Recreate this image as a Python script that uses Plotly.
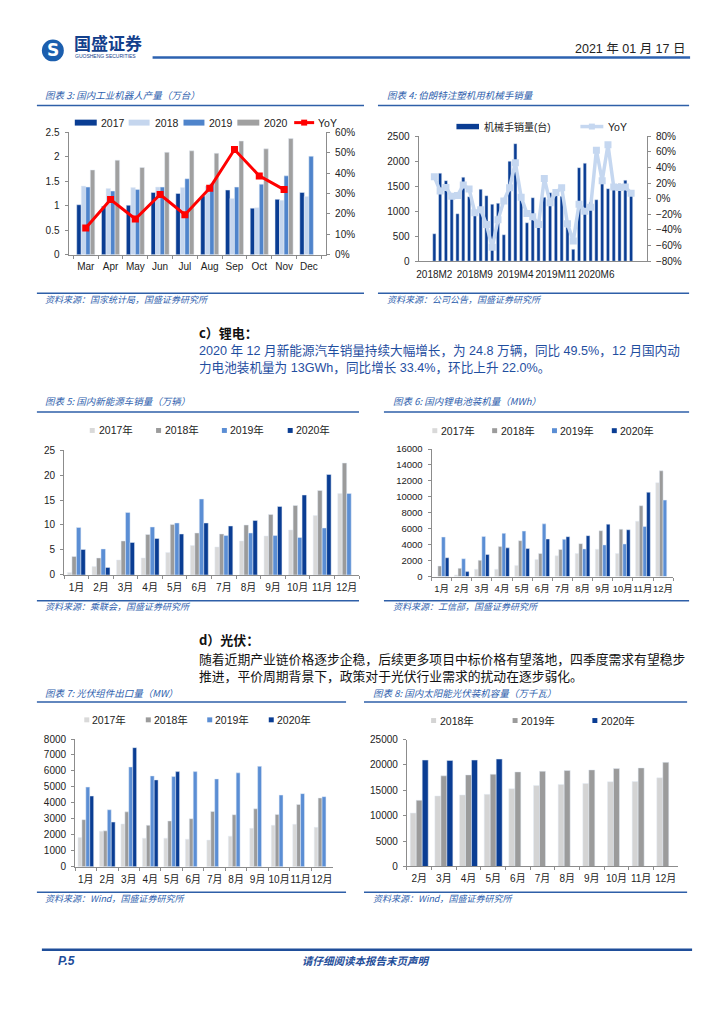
import plotly.graph_objects as go

W, H = 724, 1024

# ---------------- data ----------------
robot_months = ["Mar", "Apr", "May", "Jun", "Jul", "Aug", "Sep", "Oct", "Nov", "Dec"]
robot_years = ["2017", "2018", "2019", "2020"]
robot_2017 = [1.02, 0.99, 1.01, 1.27, 1.25, 1.20, 1.32, 0.95, 1.13, 1.27]
robot_2018 = [1.40, 1.35, 1.37, 1.38, 1.37, 1.40, 1.15, 0.96, 1.11, 1.19]
robot_2019 = [1.38, 1.30, 1.33, 1.38, 1.55, 1.45, 1.38, 1.44, 1.61, 2.01]
robot_2020 = [1.73, 1.93, 1.78, 2.09, 2.12, 2.07, 2.32, 2.16, 2.37, None]
robot_yoy = [13.1, 27.0, 17.5, 29.5, 19.6, 32.6, 51.5, 38.6, 31.9, None]

arm_months = ["2018M2", "2018M3", "2018M4", "2018M5", "2018M6", "2018M7", "2018M8",
              "2018M9", "2018M10", "2018M11", "2018M12",
              "2019M1", "2019M2", "2019M3", "2019M4", "2019M5", "2019M6", "2019M7",
              "2019M8", "2019M9", "2019M10", "2019M11", "2019M12",
              "2020M1", "2020M2", "2020M3", "2020M4", "2020M5", "2020M6", "2020M7",
              "2020M8", "2020M9", "2020M10", "2020M11", "2020M12"]
arm_ticks = ["2018M2", "2018M9", "2019M4", "2019M11", "2020M6"]
arm_sales = [550, 1760, 1610, 1300, 950, 1680, 1290, 920, 1440, 1310, 1140, 1160,
             530, 2000, 2350, 1240, 770, 1270, 820, 1280, 1370, 1310, 1300, 680,
             240, 1870, 1960, 1180, 1230, 1550, 1450, 1520, 1550, 1620, 1340]
arm_yoy = [28, 10, 14.5, 3, 4, 17.5, 12.5, -18, -14, -33, -62, -27,
           -3, 14, 46, 2, -19, -23, -33, 26, -5, 8, 14, -32,
           -54, -7, -16, -11, 62, 23, 69, 15, 14.5, 15, 7]

month_cn = ["1月", "2月", "3月", "4月", "5月", "6月", "7月", "8月", "9月", "10月", "11月", "12月"]
cn_years = ["2017年", "2018年", "2019年", "2020年"]
nev_2017 = [0.5, 1.7, 3.0, 3.4, 4.5, 5.9, 5.6, 6.8, 7.8, 9.0, 11.9, 16.3]
nev_2018 = [3.7, 3.4, 6.8, 8.1, 10.1, 8.4, 8.2, 10.0, 12.1, 13.9, 16.9, 22.4]
nev_2019 = [9.5, 5.2, 12.5, 9.6, 10.4, 15.2, 7.9, 8.4, 7.9, 7.5, 9.4, 16.3]
nev_2020 = [5.1, 1.5, 6.5, 7.3, 8.2, 10.4, 9.8, 10.9, 13.7, 16.0, 20.1, None]

bat_2017 = [None, 200, 910, 910, 1400, 2150, 2600, 2890, 3430, 2890, 6940, 11780]
bat_2018 = [1320, 1030, 2030, 3760, 4500, 2890, 3390, 4130, 5750, 5950, 8890, 13270]
bat_2019 = [4960, 2230, 5040, 5420, 5700, 6610, 4670, 3470, 3970, 4090, 6280, 9590]
bat_2020 = [2360, 620, 2770, 3600, 3510, 4710, 5000, 5130, 6570, 5870, 10580, None]

pvx_2017 = [1835, 2230, 2680, 1790, 1790, 1730, 1670, 1920, 2410, 2600, 2660, 2470]
pvx_2018 = [2950, 2250, 3440, 2600, 2870, 3010, 3460, 3260, 3630, 3280, 3900, 4310]
pvx_2019 = [4990, 3570, 6250, 5690, 5650, 5960, 5500, 5880, 6290, 4490, 4580, 4390]
pvx_2020 = [4430, 2800, 7460, 5440, 5960, None, None, None, None, None, None, None]

pv_months = ["2月", "3月", "4月", "5月", "6月", "7月", "8月", "9月", "10月", "11月", "12月"]
pv_years = ["2018年", "2019年", "2020年"]
pvc_2018 = [10520, 13900, 14090, 14220, 15320, 15970, 16170, 16360, 16690, 16750, 17470]
pvc_2019 = [13050, 17860, 18050, 18180, 18640, 18770, 18900, 19030, 19290, 19420, 20520]
pvc_2020 = [20970, 20900, 20970, 21170, None, None, None, None, None, None, None]

# ---------------- styles ----------------
NAVY = "#0A3D93"
C3 = ["#0A3D93", "#C5D6EE", "#4F84CB", "#A0A0A0"]
C5 = ["#D9D9D9", "#9B9B9B", "#5B8ED4", "#0A3D93"]
C8 = ["#D4D4D4", "#9B9B9B", "#0A3D93"]
RED = "#FF0000"
LBLUE = "#C5D7F0"
TBLUE = "#2F5FAE"
LINEBLUE = "#2E5FA8"
AX = "#8C8C8C"
TXT = "#222222"
FONT = "Liberation Sans, Arial, Noto Sans CJK SC, sans-serif"
CJK = "Noto Sans CJK SC, sans-serif"

shapes = []
annos = []


def add_line(x0, x1, y, color, width):
    shapes.append(dict(type="line", xref="paper", yref="paper",
                       x0=x0 / W, x1=x1 / W, y0=1 - y / H, y1=1 - y / H,
                       line=dict(color=color, width=width)))


def add_rect(x0, x1, y0, y1, color):
    shapes.append(dict(type="rect", xref="paper", yref="paper",
                       x0=x0 / W, x1=x1 / W, y0=1 - y1 / H, y1=1 - y0 / H,
                       fillcolor=color, line=dict(width=0)))


def add_text(x, y, s, size, color, anchor="left", family=FONT):
    annos.append(dict(xref="paper", yref="paper", x=x / W, y=1 - y / H,
                      text=s, showarrow=False, xanchor=anchor, yanchor="middle",
                      borderpad=0, font=dict(size=size, color=color, family=family)))


def legend_box(x0, x1, yc, h, color, label, tx, size=10.5):
    add_rect(x0, x1, yc - h / 2, yc + h / 2, color)
    add_text(tx, yc, label, size, TXT)


def legend_line(x0, x1, yc, color, lw, ms, label, tx, size=10.5):
    add_line(x0, x1, yc, color, lw)
    xc = (x0 + x1) / 2
    add_rect(xc - ms / 2, xc + ms / 2, yc - ms / 2, yc + ms / 2, color)
    add_text(tx, yc, label, size, TXT)


def cat_axis(x0, x1, anchor, **kw):
    d = dict(domain=[x0 / W, x1 / W], anchor=anchor, type="category",
             showline=True, linecolor=AX, linewidth=1, ticks="outside",
             tickson="boundaries", ticklen=3, tickcolor=AX, tickangle=0,
             tickfont=dict(size=10, color=TXT, family=FONT),
             showgrid=False, zeroline=False, fixedrange=True)
    d.update(kw)
    return d


def val_axis(y0, y1, anchor, rng, dtick, **kw):
    d = dict(domain=[1 - y1 / H, 1 - y0 / H], anchor=anchor, range=rng, dtick=dtick,
             showline=True, linecolor=AX, linewidth=1, ticks="outside", ticklen=3,
             tickcolor=AX, tickfont=dict(size=10, color=TXT, family=FONT),
             showgrid=False, zeroline=False, fixedrange=True, ticklabelstandoff=3)
    d.update(kw)
    return d


fig = go.Figure()

# ---- Chart 3: industrial robots ----
for name, vals, col in zip(robot_years, [robot_2017, robot_2018, robot_2019, robot_2020], C3):
    fig.add_trace(go.Bar(x=robot_months, y=vals, name=name, marker_color=col,
                         xaxis="x", yaxis="y", showlegend=False))
fig.add_trace(go.Scatter(x=robot_months, y=robot_yoy, name="YoY", mode="lines+markers",
                         line=dict(color=RED, width=3),
                         marker=dict(symbol="square", size=7, color=RED),
                         xaxis="x", yaxis="y2", showlegend=False))

# ---- Chart 4: robot arms ----
fig.add_trace(go.Bar(x=arm_months, y=arm_sales, name="机械手销量(台)", marker_color=NAVY,
                     width=0.55, xaxis="x2", yaxis="y3", showlegend=False))
fig.add_trace(go.Scatter(x=arm_months, y=arm_yoy, name="YoY", mode="lines+markers",
                         line=dict(color=LBLUE, width=3.5),
                         marker=dict(symbol="square", size=7, color=LBLUE),
                         xaxis="x2", yaxis="y4", showlegend=False))

# ---- Chart 5: NEV sales ----
for name, vals, col in zip(cn_years, [nev_2017, nev_2018, nev_2019, nev_2020], C5):
    fig.add_trace(go.Bar(x=month_cn, y=vals, name=name, marker_color=col,
                         xaxis="x3", yaxis="y5", showlegend=False))

# ---- Chart 6: battery installations ----
for name, vals, col in zip(cn_years, [bat_2017, bat_2018, bat_2019, bat_2020], C5):
    fig.add_trace(go.Bar(x=month_cn, y=vals, name=name, marker_color=col,
                         xaxis="x4", yaxis="y6", showlegend=False))

# ---- Chart 7: PV module exports ----
for name, vals, col in zip(cn_years, [pvx_2017, pvx_2018, pvx_2019, pvx_2020], C5):
    fig.add_trace(go.Bar(x=month_cn, y=vals, name=name, marker_color=col,
                         xaxis="x5", yaxis="y7", showlegend=False))

# ---- Chart 8: PV capacity ----
for name, vals, col in zip(pv_years, [pvc_2018, pvc_2019, pvc_2020], C8):
    fig.add_trace(go.Bar(x=pv_months, y=vals, name=name, marker_color=col,
                         xaxis="x6", yaxis="y8", showlegend=False))

# ---------------- page decoration ----------------
# header
shapes.append(dict(type="circle", xref="paper", yref="paper",
                   x0=40 / W, x1=62 / W, y0=1 - 56 / H, y1=1 - 34 / H,
                   fillcolor="#1B5EAE", line=dict(width=0)))
add_text(51, 45, "<b>S</b>", 17, "white", anchor="center", family="DejaVu Sans")
add_text(71, 37, "<b>国盛证券</b>", 17, "#13408C", family=CJK)
add_text(72, 50.5, "GUOSHENG SECURITIES", 5, "#13408C")
add_text(686, 43.5, "2021 年 01 月 17 日", 12.5, "#222222", anchor="right",
         family="Liberation Sans, Noto Sans CJK SC")
add_line(151, 690, 52, "#2D62B0", 2.5)

TI = lambda s: "<i>" + s + "</i>"

# chart 3 frame
add_text(42, 90, TI("图表 3: 国内工业机器人产量（万台）"), 9.5, TBLUE, family=CJK)
add_line(35, 363, 100.7, LINEBLUE, 1.5)
add_line(35, 363, 290.7, LINEBLUE, 1.5)
add_text(42, 297, TI("资料来源：国家统计局，国盛证券研究所"), 9, TBLUE, family=CJK)
legend_box(73, 95, 118, 6, C3[0], "2017", 98)
legend_box(127, 148, 118, 6, C3[1], "2018", 152)
legend_box(182, 203, 118, 6, C3[2], "2019", 207)
legend_box(236, 258, 118, 6, C3[3], "2020", 262)
legend_line(293, 313, 118, RED, 3, 6, "YoY", 316)

# chart 4 frame
add_text(385, 90, TI("图表 4: 伯朗特注塑机用机械手销量"), 9.5, TBLUE, family=CJK)
add_line(377, 689, 100.7, LINEBLUE, 1.5)
add_line(377, 689, 290.7, LINEBLUE, 1.5)
add_text(385, 297, TI("资料来源：公司公告，国盛证券研究所"), 9, TBLUE, family=CJK)
legend_box(455.7, 478.3, 122, 5.5, NAVY, "机械手销量(台)", 482, size=10)
legend_line(580, 603, 122, LBLUE, 3.5, 6, "YoY", 607)

# section c
add_text(197, 330, "<b>c）锂电：</b>", 13, "#111111", family=CJK)
add_text(197, 349, "2020 年 12 月新能源汽车销量持续大幅增长，为 24.8 万辆，同比 49.5%，12 月国内动",
         12.6, "#1F4E9F", family="Liberation Sans, Noto Sans CJK SC")
add_text(197, 366, "力电池装机量为 13GWh，同比增长 33.4%，环比上升 22.0%。",
         12.6, "#1F4E9F", family="Liberation Sans, Noto Sans CJK SC")

# chart 5 frame
add_text(42, 400, TI("图表 5: 国内新能源车销量（万辆）"), 9.5, TBLUE, family=CJK)
add_line(35, 358, 410.7, LINEBLUE, 1.5)
add_line(35, 358, 601.7, LINEBLUE, 1.5)
add_text(42, 607.7, TI("资料来源：乘联会，国盛证券研究所"), 9, TBLUE, family=CJK)
for cx, tx, col, lab in zip([90.5, 157, 223, 289], [96, 162, 228, 294], C5, cn_years):
    legend_box(cx - 2.5, cx + 2.5, 429.5, 5, col, lab, tx)

# chart 6 frame
add_text(391, 400, TI("图表 6: 国内锂电池装机量（MWh）"), 9.5, TBLUE, family=CJK)
add_line(383, 689, 410.7, LINEBLUE, 1.5)
add_line(383, 689, 601.7, LINEBLUE, 1.5)
add_text(391, 607.7, TI("资料来源：工信部，国盛证券研究所"), 9, TBLUE, family=CJK)
for cx, tx, col, lab in zip([434, 494, 554, 614], [439, 499, 559, 619], C5, cn_years):
    legend_box(cx - 2.5, cx + 2.5, 429.7, 5, col, lab, tx)

# section d
add_text(197, 641, "<b>d）光伏：</b>", 13, "#111111", family=CJK)
add_text(197, 660, "随着近期产业链价格逐步企稳，后续更多项目中标价格有望落地，四季度需求有望稳步",
         12.8, "#111111", family=CJK)
add_text(197, 677, "推进，平价周期背景下，政策对于光伏行业需求的扰动在逐步弱化。",
         12.8, "#111111", family=CJK)

# chart 7 frame
add_text(42, 695, TI("图表 7: 光伏组件出口量（MW）"), 9.5, TBLUE, family=CJK)
add_line(35, 345, 704.3, LINEBLUE, 1.5)
add_line(35, 345, 896.7, LINEBLUE, 1.5)
add_text(42, 902.7, TI("资料来源：Wind，国盛证券研究所"), 9, TBLUE, family=CJK)
for cx, tx, col, lab in zip([85, 146.7, 208.3, 270], [89.5, 151, 213, 274.5], C5, cn_years):
    legend_box(cx - 2.5, cx + 2.5, 722.3, 5, col, lab, tx)

# chart 8 frame
add_text(371, 695, TI("图表 8: 国内太阳能光伏装机容量（万千瓦）"), 9.5, TBLUE, family=CJK)
add_line(363, 687, 704.3, LINEBLUE, 1.5)
add_line(363, 687, 896.7, LINEBLUE, 1.5)
add_text(371, 902.7, TI("资料来源：Wind，国盛证券研究所"), 9, TBLUE, family=CJK)
for cx, tx, col, lab in zip([432.8, 514.5, 594.5], [438, 519, 599.5], C8, pv_years):
    legend_box(cx - 2.5, cx + 2.5, 723, 5, col, lab, tx)

# footer
add_line(40, 692, 955, "#1F4E9A", 2.5)
add_text(55, 966, "<b><i>P.5</i></b>", 12, "#1F4E9A", family=FONT)
add_text(365, 966, "<b><i>请仔细阅读本报告末页声明</i></b>", 10.5, "#1F4E9A", anchor="center", family=CJK)

# ---------------- axes ----------------
fig.update_layout(
    width=W, height=H, margin=dict(l=0, r=0, t=0, b=0),
    paper_bgcolor="white", plot_bgcolor="white",
    barmode="group", bargap=0.27, bargroupgap=0.0,
    showlegend=False,
    shapes=shapes, annotations=annos,
    xaxis=cat_axis(66.7, 325, "y", ticklabelstandoff=2),
    yaxis=val_axis(127.7, 251.7, "x", [0, 2.5], 0.5),
    yaxis2=dict(overlaying="y", side="right", anchor="x", range=[0, 60], dtick=10,
                ticksuffix="%", showline=True, linecolor=AX, ticks="outside", ticklen=3,
                tickcolor=AX, tickfont=dict(size=10, color=TXT, family=FONT),
                showgrid=False, zeroline=False, fixedrange=True, ticklabelstandoff=3),
    xaxis2=cat_axis(417.7, 646.7, "y3", ticks="", tickvals=arm_ticks, ticklabelstandoff=4),
    yaxis3=val_axis(131.7, 258.3, "x2", [0, 2500], 500, tickformat="d"),
    yaxis4=dict(overlaying="y3", side="right", anchor="x2", range=[-80, 80], dtick=20,
                ticksuffix="%", showline=True, linecolor=AX, ticks="outside", ticklen=3,
                tickcolor=AX, tickfont=dict(size=10, color=TXT, family=FONT),
                showgrid=False, zeroline=False, fixedrange=True, ticklabelstandoff=3),
    xaxis3=cat_axis(62.3, 358, "y5", ticklabelstandoff=3),
    yaxis5=val_axis(449.3, 575.7, "x3", [0, 25], 5, tickformat="d"),
    xaxis4=cat_axis(430.7, 673, "y6", ticklabelstandoff=3,
                    tickfont=dict(size=9.5, color=TXT, family=FONT)),
    yaxis6=val_axis(448.3, 577.3, "x4", [0, 16000], 2000, tickformat="d",
                    tickfont=dict(size=9.5, color=TXT, family=FONT)),
    xaxis5=cat_axis(73.3, 331.7, "y7", ticklabelstandoff=3),
    yaxis7=val_axis(741.7, 871, "x5", [0, 8000], 1000, tickformat="d"),
    xaxis6=cat_axis(406, 678, "y8", ticklabelstandoff=3),
    yaxis8=val_axis(742.3, 870.7, "x6", [0, 25000], 5000, tickformat="d"),
)

fig.write_html("out.html", config={"staticPlot": True, "displayModeBar": False},
               post_script="document.body.style.margin='0';document.body.style.overflow='hidden';")
